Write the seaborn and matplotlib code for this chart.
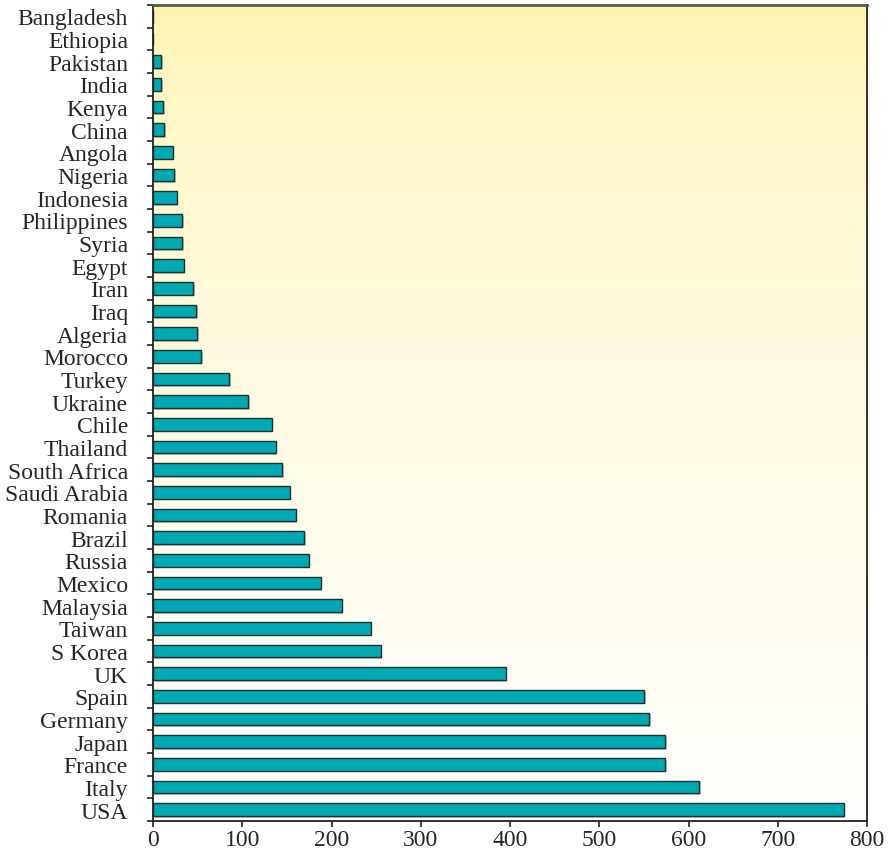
import numpy as np
import matplotlib
matplotlib.use("Agg")
import matplotlib.pyplot as plt
import matplotlib.patheffects as pe
import seaborn as sns

countries = ["Bangladesh", "Ethiopia", "Pakistan", "India", "Kenya", "China",
             "Angola", "Nigeria", "Indonesia", "Philippines", "Syria", "Egypt",
             "Iran", "Iraq", "Algeria", "Morocco", "Turkey", "Ukraine", "Chile",
             "Thailand", "South Africa", "Saudi Arabia", "Romania", "Brazil",
             "Russia", "Mexico", "Malaysia", "Taiwan", "S Korea", "UK", "Spain",
             "Germany", "Japan", "France", "Italy", "USA"]
values = [0, 0, 9.3, 9.3, 11.2, 12.3,
          22, 23.5, 26.5, 33, 33, 34.5,
          45, 48.5, 49.7, 54.2, 85, 106.5, 133,
          137.5, 145, 153, 160, 169.5,
          174.5, 188, 211.5, 244, 255, 395, 550.5,
          556, 574, 573.5, 612, 774]
xticks = [0, 100, 200, 300, 400, 500, 600, 700, 800]

sns.set_style("white")
plt.rcParams["font.family"] = ["Liberation Serif", "DejaVu Serif"]

fig = plt.figure(figsize=(8.91, 8.53), dpi=100)
ax = fig.add_axes([153 / 891, 1 - 822 / 853, (867 - 153) / 891, (822 - 6) / 853])

# yellow-to-white vertical gradient background
t = np.linspace(0, 1, 256)[:, None] ** 0.5
top = np.array([255, 243, 168]) / 255
bot = np.array([255, 255, 253]) / 255
img = top[None, None, :] * (1 - t[..., None]) + bot[None, None, :] * t[..., None]
ax.imshow(img, extent=[0, 1, 0, 1], transform=ax.transAxes, aspect="auto",
          zorder=0, origin="upper")

sns.barplot(x=values, y=countries, orient="h", ax=ax, color="#00a9b2",
            saturation=1, width=0.56, edgecolor="#1c3232", linewidth=1.0,
            zorder=2)
for p in ax.patches:
    p.set_path_effects([pe.SimplePatchShadow(offset=(1.2, -1.2),
                                             shadow_rgbFace="#8a8a8a", alpha=0.5),
                        pe.Normal()])

ax.set_xlim(0, 800)
ax.set_ylim(len(countries) - 0.5, -0.5)
ax.set_xticks(xticks)
ax.set_xticklabels([str(v) for v in xticks], fontsize=17)
ax.set_yticks(range(len(countries)))
ax.set_yticklabels(countries, fontsize=17)
ax.set_yticks(np.arange(-0.5, len(countries)), minor=True)
ax.tick_params(axis="y", which="major", length=0, pad=18)
ax.tick_params(axis="y", which="minor", length=4, width=1.2, color="#222222",
               direction="out", left=True)
ax.tick_params(axis="x", which="major", length=4, width=1.2, color="#222222",
               direction="out", bottom=True, pad=2)
ax.set_xlabel("")
ax.set_ylabel("")
for side in ["left", "bottom", "right", "top"]:
    ax.spines[side].set_visible(True)
    ax.spines[side].set_color("#222222")
    ax.spines[side].set_linewidth(1.3)
ax.spines["top"].set_color("#555555")
ax.spines["top"].set_linewidth(2)

fig.savefig("out.png", dpi=100)
